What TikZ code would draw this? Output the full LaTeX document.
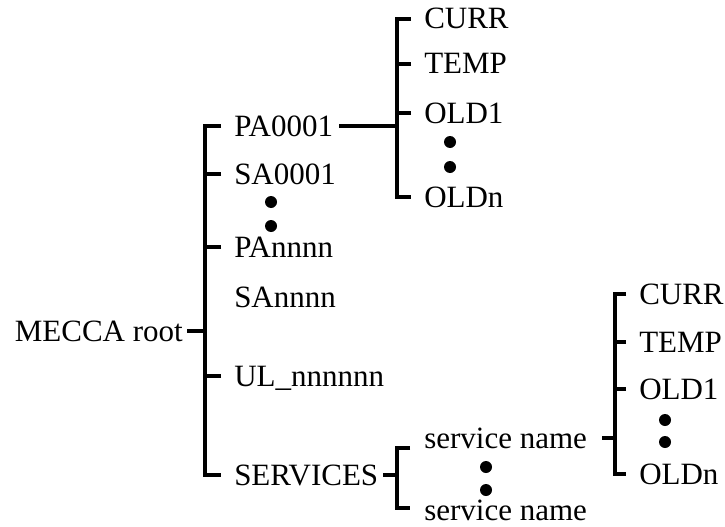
\documentclass[tikz,border=0pt]{standalone}
\usepackage{fontspec}
\setmainfont{Liberation Serif}
\begin{document}
\begin{tikzpicture}[x=1pt,y=-1pt,
  line width=4.5pt, line join=miter,
  lbl/.style={font=\fontsize{31}{31}\selectfont, inner sep=0pt, text height=20pt, text depth=0pt},
  dot/.style={fill=black}]
\useasboundingbox (0,0) rectangle (725,527);
% bracket columns
\coordinate (main) at (205,0);
\coordinate (top) at (397,0);
\coordinate (br2) at (615,0);
\coordinate (sbt) at (397,448);
\coordinate (sbb) at (397,508);
% main column
\node[lbl, anchor=east] (root) at (185,331) {MECCA root};
\node[lbl, anchor=west] (PA) at (232,126) {PA0001};
\node[lbl, anchor=west] (SA1) at (232,174) {SA0001};
\node[lbl, anchor=west] (PAn) at (232,247) {PAnnnn};
\node[lbl, anchor=west] (SAn) at (232,297) {SAnnnn};
\node[lbl, anchor=west] (UL) at (232,376) {UL\_nnnnnn};
\node[lbl, anchor=west] (SERV) at (232,475) {SERVICES};
% top right
\node[lbl, anchor=west] (C1) at (422,19) {CURR};
\node[lbl, anchor=west] (T1) at (422,64) {TEMP};
\node[lbl, anchor=west] (O1) at (422,113) {OLD1};
\node[lbl, anchor=west] (On1) at (422,197) {OLDn};
% services
\node[lbl, anchor=west] (sn1) at (422,438) {service name};
\node[lbl, anchor=west] (sn2) at (422,510) {service name};
% bottom right
\node[lbl, anchor=west] (C2) at (637,294) {CURR};
\node[lbl, anchor=west] (T2) at (637,342) {TEMP};
\node[lbl, anchor=west] (O2) at (637,389) {OLD1};
\node[lbl, anchor=west] (On2) at (637,474) {OLDn};

% main bracket
\draw ([xshift=-11pt]PA.west) -- (PA.west -| main) -- (SERV.west -| main) -- ([xshift=-11pt]SERV.west);
\foreach \n in {SA1,PAn,UL} \draw ([xshift=-11pt]\n.west) -- (\n.west -| main);
\draw ([xshift=2pt]root.east) -- (root.east -| main);
\fill[dot] (271,202) circle[radius=6pt];
\fill[dot] (271,226) circle[radius=6pt];

% PA0001 branch
\draw ([xshift=4pt]PA.east) -- (PA.east -| top);
\draw ([xshift=-11pt]C1.west) -- (C1.west -| top) -- (On1.west -| top) -- ([xshift=-11pt]On1.west);
\foreach \n in {T1,O1} \draw ([xshift=-11pt]\n.west) -- (\n.west -| top);
\fill[dot] (450,142) circle[radius=6pt];
\fill[dot] (450,167) circle[radius=6pt];

% SERVICES branch
\draw ([xshift=3pt]SERV.east) -- (SERV.east -| sbt);
\draw ([xshift=13pt]sbt) -- (sbt) -- (sbb) -- ([xshift=13pt]sbb);
\fill[dot] (486,467) circle[radius=6pt];
\fill[dot] (486,490) circle[radius=6pt];

% service name branch
\draw ([xshift=13pt]sn1.east) -- (sn1.east -| br2);
\draw ([xshift=-11pt]C2.west) -- (C2.west -| br2) -- (On2.west -| br2) -- ([xshift=-11pt]On2.west);
\foreach \n in {T2,O2} \draw ([xshift=-11pt]\n.west) -- (\n.west -| br2);
\fill[dot] (665,420) circle[radius=6pt];
\fill[dot] (665,442) circle[radius=6pt];
\end{tikzpicture}
\end{document}
